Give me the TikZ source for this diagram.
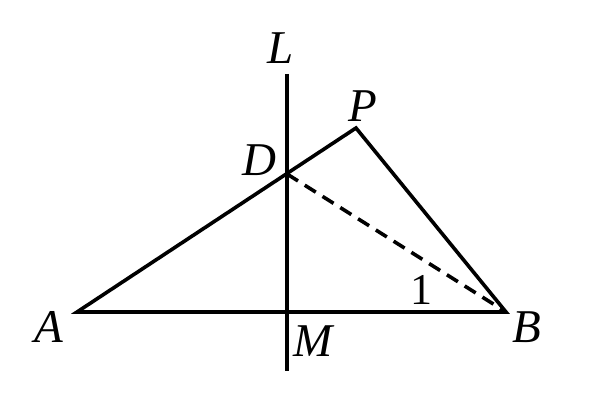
\documentclass[tikz,border=0pt]{standalone}
\usepackage{fontspec}
\setmainfont{Liberation Serif}
\begin{document}
\begin{tikzpicture}[x=1pt,y=-1pt,
  seg/.style={line width=3.6pt, line cap=round, line join=miter},
  lbl/.style={inner sep=0pt, font=\fontsize{47}{50}\selectfont\itshape},
  num/.style={inner sep=0pt, font=\fontsize{44}{48}\selectfont}]
\useasboundingbox (0,0) rectangle (600,420);
\coordinate (A) at (77,312);
\coordinate (B) at (506,312);
\coordinate (M) at (287,312);
\coordinate (P) at (356,128);
\coordinate (D) at (287,174);
\coordinate (Ltop) at (287,74);
\coordinate (Lbot) at (287,371);
\draw[seg] (A) -- (P) -- (B) -- cycle;
\draw[seg, line cap=butt] (Ltop) -- (Lbot);
\draw[line width=3.6pt, dash pattern=on 13pt off 8pt] (D) -- (B);
\node[lbl] (lL) at (281,48) {L};
\node[lbl] (lP) at (363,106) {P};
\node[lbl] (lD) at (259,160) {D};
\node[lbl] (lA) at (49,327) {A};
\node[lbl] (lB) at (527,327) {B};
\node[lbl] (lM) at (313,341) {M};
\node[num] (l1) at (421,290) {1};
\end{tikzpicture}
\end{document}
